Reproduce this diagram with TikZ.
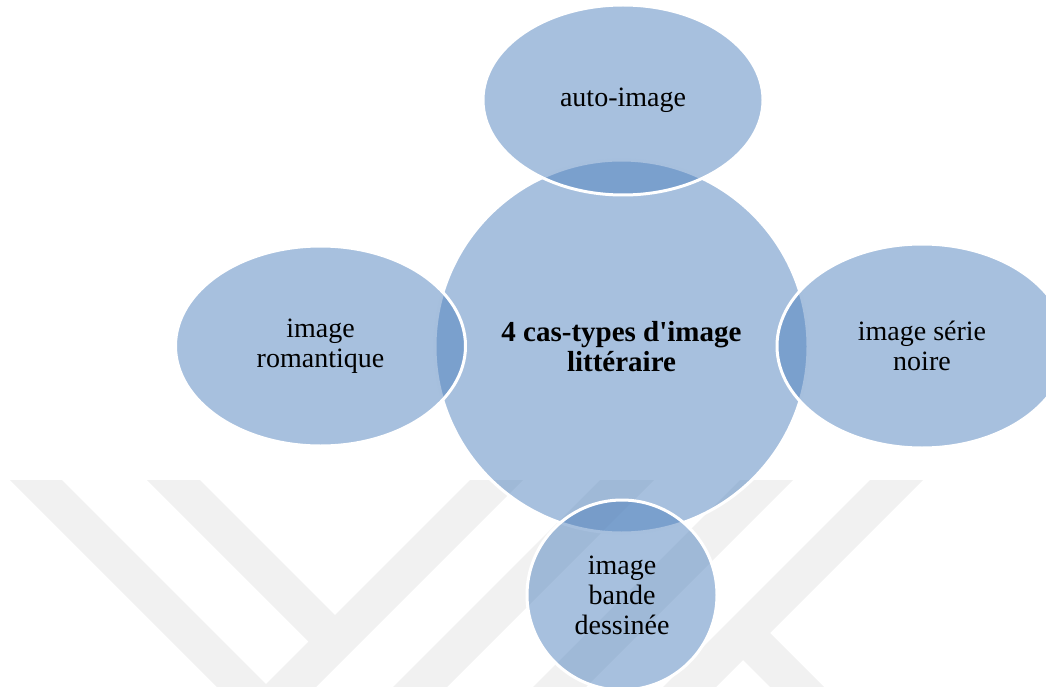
\documentclass[tikz,border=0pt]{standalone}
\usepackage{fontspec}
\setmainfont{Liberation Serif}
\setmonofont{Liberation Serif}
\usetikzlibrary{shapes.geometric}
\definecolor{acc}{HTML}{4F81BD}
\begin{document}
\begin{tikzpicture}[x=1pt,y=-1pt,
  blob/.style={ellipse, draw=white, line width=3pt, fill=acc, fill opacity=0.5,
    draw opacity=1, text opacity=1, inner sep=0pt, align=center,
    font=\fontsize{28}{30}\selectfont},
  wmark/.style={fill=black, opacity=0.055}]
\useasboundingbox (0,0) rectangle (1046,687);
% faint watermark in the background
\fill[wmark]
  (10,480) -- (62,480) -- (269,687) -- (217,687) -- cycle
  (147,480) -- (200,480) -- (335,615) -- (308.5,641.5) -- cycle
  (470,480) -- (523,480) -- (316,687) -- (263,687) -- cycle
  (600,480) -- (654,480) -- (447,687) -- (393,687) -- cycle
  (740,480) -- (793,480) -- (586,687) -- (533,687) -- cycle
  (870,480) -- (923,480) -- (716,687) -- (663,687) -- cycle
  (743,660) -- (770,633) -- (824,687) -- (770,687) -- cycle;
% centre
\node[blob, minimum width=373pt, minimum height=373pt,
  font=\fontsize{29}{30}\selectfont\bfseries] (c) at (621.5,346.5)
  {4 cas-types d{\ttfamily\bfseries'}image\\littéraire};
% satellites
\node[blob, minimum width=280pt, minimum height=190pt] (t) at (623,100) {auto-image};
\node[blob, minimum width=290pt, minimum height=200pt] (l) at (320.5,346) {image\\romantique};
\node[blob, minimum width=290pt, minimum height=204pt] (r) at (922,346) {image série\\noire};
\node[blob, minimum width=190pt, minimum height=190pt] (b) at (622,595) {image\\bande\\dessinée};
\end{tikzpicture}
\end{document}
